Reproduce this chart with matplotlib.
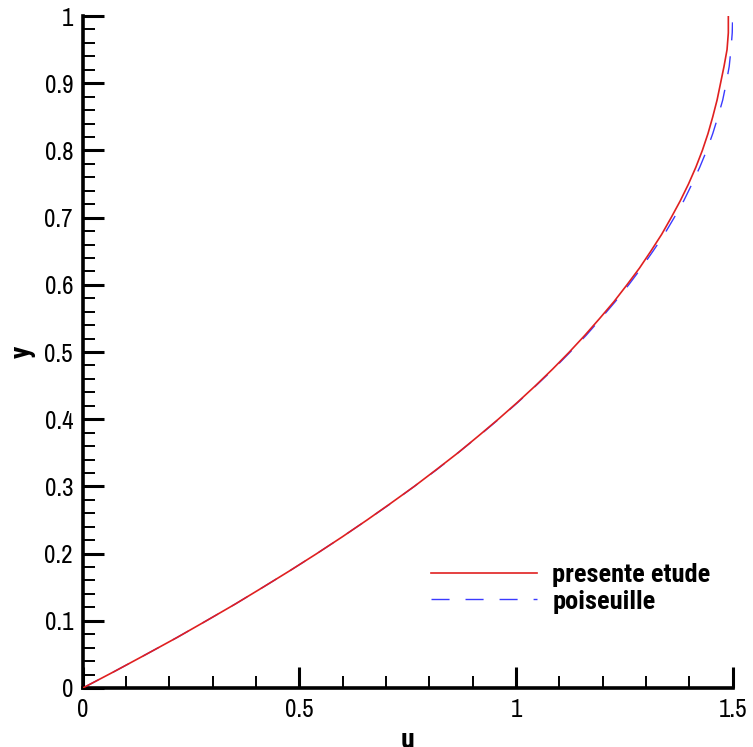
import matplotlib
matplotlib.use("Agg")
import matplotlib.pyplot as plt
from matplotlib import font_manager
from matplotlib.ticker import MultipleLocator

# Velocity profile samples (u along x, y across the channel half-width)
y_vals = [0.0, 0.025, 0.05, 0.075, 0.10, 0.125, 0.15, 0.175, 0.20, 0.225, 0.25,
          0.275, 0.30, 0.325, 0.35, 0.375, 0.40, 0.425, 0.45, 0.475, 0.50,
          0.525, 0.55, 0.575, 0.60, 0.625, 0.65, 0.675, 0.70, 0.725, 0.75,
          0.775, 0.80, 0.825, 0.85, 0.875, 0.90, 0.925, 0.95, 0.975, 1.0]
u_present = [0.0, 0.074, 0.146, 0.217, 0.285, 0.352, 0.416, 0.479, 0.540, 0.599, 0.656,
             0.711, 0.765, 0.816, 0.866, 0.913, 0.959, 1.003, 1.045, 1.085, 1.123,
             1.159, 1.193, 1.226, 1.256, 1.285, 1.311, 1.336, 1.358, 1.379, 1.398,
             1.415, 1.430, 1.443, 1.454, 1.464, 1.472, 1.480, 1.487, 1.490, 1.490]
u_poiseuille = [0.0, 0.074, 0.146, 0.217, 0.285, 0.352, 0.416, 0.479, 0.540, 0.599, 0.656,
                0.712, 0.765, 0.817, 0.866, 0.914, 0.960, 1.004, 1.046, 1.087, 1.125,
                1.162, 1.196, 1.229, 1.260, 1.289, 1.316, 1.342, 1.365, 1.387, 1.406,
                1.424, 1.440, 1.454, 1.466, 1.477, 1.485, 1.492, 1.496, 1.499, 1.500]

series_labels = ["presente etude", "poiseuille"]
x_label = "u"
y_label = "y"
x_ticks = [0, 0.5, 1, 1.5]
x_ticklabels = ["0", "0.5", "1", "1.5"]
y_ticks = [0.0, 0.1, 0.2, 0.3, 0.4, 0.5, 0.6, 0.7, 0.8, 0.9, 1.0]
y_ticklabels = ["0", "0.1", "0.2", "0.3", "0.4", "0.5", "0.6", "0.7", "0.8", "0.9", "1"]

available = {f.name for f in font_manager.fontManager.ttflist}


def pick(*names):
    for n in names:
        if n in available:
            return n
    return "Liberation Sans"


tick_font = pick("Archivo Narrow", "PT Sans Narrow", "Roboto Condensed")
bold_font = pick("Roboto Condensed", "PT Sans Narrow", "Archivo Narrow")

fig = plt.figure(figsize=(7.53, 7.47), dpi=100)
ax = fig.add_axes([0.110, 0.079, 0.863, 0.8995])

ax.plot(u_poiseuille, y_vals, color="#3a3aff", lw=1.0, dashes=(13, 11.5),
        label=series_labels[1], zorder=2)
ax.plot(u_present, y_vals, color="#e02020", lw=1.2, label=series_labels[0], zorder=3)

ax.set_xlim(0, 1.5)
ax.set_ylim(0, 1)

for side in ("top", "right"):
    ax.spines[side].set_visible(False)
for side in ("left", "bottom"):
    ax.spines[side].set_linewidth(2.6)

ax.xaxis.set_minor_locator(MultipleLocator(0.1))
ax.yaxis.set_minor_locator(MultipleLocator(0.02))
ax.set_xticks(x_ticks)
ax.set_xticklabels(x_ticklabels)
ax.set_yticks(y_ticks)
ax.set_yticklabels(y_ticklabels)

ax.tick_params(which="major", direction="in", length=15, width=2.2, pad=7,
               labelsize=18)
ax.tick_params(which="minor", direction="in", length=8.5, width=1.4)
for lab in ax.get_xticklabels() + ax.get_yticklabels():
    lab.set_fontfamily(tick_font)

ax.set_xlabel(x_label, fontsize=20, fontweight="bold", family=bold_font)
ax.set_ylabel(y_label, fontsize=20, fontweight="bold", family=bold_font)
ax.xaxis.set_label_coords(0.50, -0.058)
ax.yaxis.set_label_coords(-0.072, 0.5)

handles, labels = ax.get_legend_handles_labels()
order = [1, 0]
leg = ax.legend([handles[i] for i in order], [labels[i] for i in order],
                loc="center left", bbox_to_anchor=(0.5, 0.148), frameon=False,
                handlelength=3.98, handletextpad=0.6, labelspacing=0.08,
                prop={"family": bold_font, "weight": "bold", "size": 19})

fig.savefig("out.png", dpi=100)
